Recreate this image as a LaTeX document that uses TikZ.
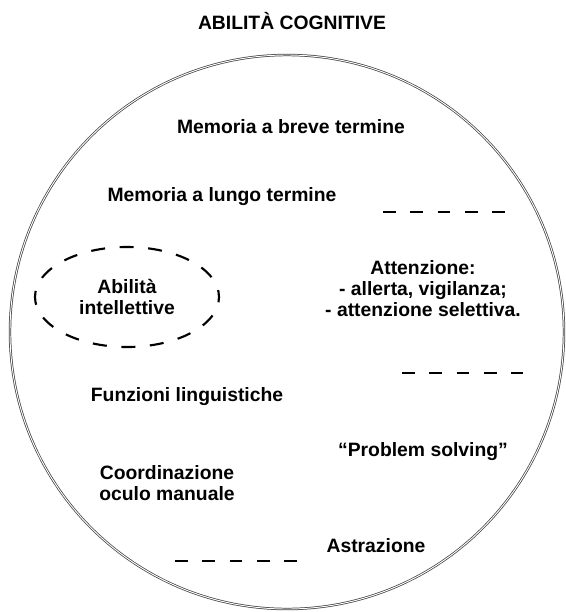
\documentclass[tikz,border=0pt]{standalone}
\usepackage{fontspec}
\setmainfont{Liberation Sans}
\usetikzlibrary{shapes.geometric}

\begin{document}
\begin{tikzpicture}[x=0.75pt, y=-0.75pt,
  every node/.style={font=\fontsize{14.5}{15.75}\selectfont\bfseries, inner sep=0pt, align=center},
  ring/.style={draw=black!75, double=white, double distance=0.7pt, line width=0.55pt},
  gapline/.style={line width=1.1pt, dash pattern=on 9.4pt off 11.1pt},
  bubble/.style={draw, ellipse, line width=1.6pt, dash pattern=on 10.5pt off 10.95pt, dash phase=5.25pt, minimum width=138pt, minimum height=75pt}]

  \useasboundingbox (0,0) rectangle (566,612);

  \node (titolo) at (292,21) {ABILITÀ COGNITIVE};
  \draw[ring] (287,332) circle [radius=277];

  \node (breve) at (291,127) {Memoria a breve termine};
  \node (lungo) at (222,197) {Memoria a lungo termine};
  \node[bubble] (intell) at (127,297) {Abilità\\intellettive};
  \node (attenz) at (423,289) {Attenzione:\\- allerta, vigilanza;\\- attenzione selettiva.};
  \node (funz) at (187,397) {Funzioni linguistiche};
  \node (probl) at (423,452) {“Problem solving”};
  \node (coord) at (167,483) {Coordinazione\\oculo manuale};
  \node (astr) at (376,546) {Astrazione};

  \coordinate (g1a) at (383,212);
  \coordinate (g1b) at (505,212);
  \coordinate (g2a) at (402,373);
  \coordinate (g2b) at (523,373);
  \coordinate (g3a) at (175,561);
  \coordinate (g3b) at (297,561);

  \draw[gapline] (g1a) -- (g1b);
  \draw[gapline] (g2a) -- (g2b);
  \draw[gapline] (g3a) -- (g3b);

\end{tikzpicture}
\end{document}
